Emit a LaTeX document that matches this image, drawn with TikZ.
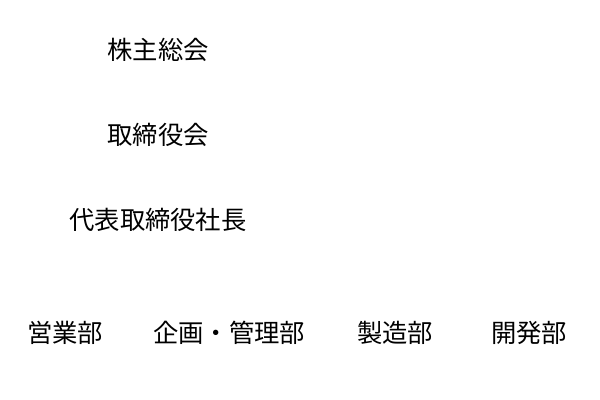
\documentclass[tikz,border=0pt]{standalone}
\usepackage{fontspec}
\newfontfamily\cjk{Noto Sans CJK JP}
\begin{document}
\begin{tikzpicture}[x=0.75pt,y=-0.75pt,
  lbl/.style={font=\cjk\fontsize{19}{22}\selectfont, inner sep=0pt}]
\useasboundingbox (0,0) rectangle (600,400);
\node[lbl] (soukai) at (158,50) {株主総会};
\node[lbl] (torikai) at (158,135) {取締役会};
\node[lbl] (shachou) at (158,220) {代表取締役社長};
\node[lbl] (eigyo) at (65,333) {営業部};
\node[lbl] (kikaku) at (229,333) {企画・管理部};
\node[lbl] (seizo) at (395,333) {製造部};
\node[lbl] (kaihatsu) at (529,333) {開発部};
\end{tikzpicture}
\end{document}
